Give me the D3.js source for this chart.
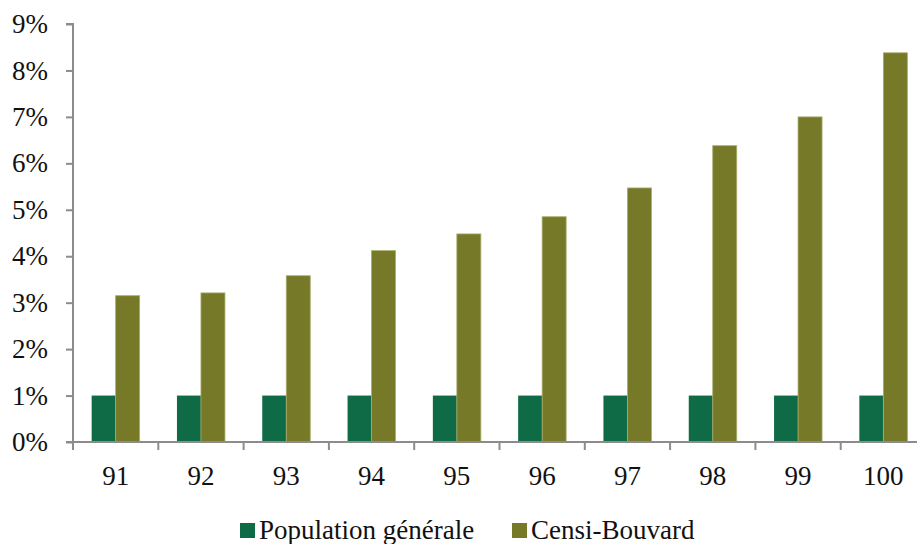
<!DOCTYPE html>
<html>
<head>
<meta charset="utf-8">
<script src="https://cdn.jsdelivr.net/npm/d3@7"></script>
<style>
  body { margin: 0; background: #fff; }
  svg { display: block; }
  text { font-family: "Liberation Serif", "DejaVu Serif", serif; fill: #111; }
</style>
</head>
<body>
<svg width="917" height="544"></svg>
<script>
var categories = ["91", "92", "93", "94", "95", "96", "97", "98", "99", "100"];
var population = [1, 1, 1, 1, 1, 1, 1, 1, 1, 1];
var censi = [3.15, 3.21, 3.58, 4.12, 4.48, 4.85, 5.47, 6.38, 7.0, 8.38];
var seriesNames = ["Population générale", "Censi-Bouvard"];
var colors = ["#0e6b46", "#767a28"];
var yTicks = [0, 1, 2, 3, 4, 5, 6, 7, 8, 9];

var svg = d3.select("svg");
var plotLeft = 73, plotTop = 24, plotBottom = 442, plotRight = 926;
var fontSize = "27px";

var x = d3.scaleBand()
    .domain(categories)
    .range([plotLeft, plotRight]);

var y = d3.scaleLinear()
    .domain([0, 9])
    .range([plotBottom, plotTop]);

var barW = 24;

// bars
var groups = svg.selectAll("g.grp")
    .data(categories)
    .enter().append("g")
    .attr("class", "grp");

groups.append("rect")
    .attr("x", function(d) { return x(d) + x.bandwidth() / 2 - barW; })
    .attr("y", function(d, i) { return y(population[i]); })
    .attr("width", barW)
    .attr("height", function(d, i) { return plotBottom - y(population[i]); })
    .attr("fill", colors[0]);

groups.append("rect")
    .attr("x", function(d) { return x(d) + x.bandwidth() / 2; })
    .attr("y", function(d, i) { return y(censi[i]); })
    .attr("width", barW)
    .attr("height", function(d, i) { return plotBottom - y(censi[i]); })
    .attr("fill", colors[1])
    .attr("stroke", "#a9ad6c")
    .attr("stroke-width", 0.8);

// y axis
var yAxis = d3.axisLeft(y)
    .tickValues(yTicks)
    .tickFormat(function(d) { return d + "%"; })
    .tickSize(7)
    .tickPadding(18);

var ya = svg.append("g")
    .attr("transform", "translate(" + plotLeft + ",0)")
    .call(yAxis);
ya.selectAll("path, line").attr("stroke", "#8c8c8c").attr("stroke-width", 2);
ya.select("path").attr("d", "M-7," + plotTop + "H0V" + plotBottom);
ya.selectAll("text").style("font-size", fontSize).attr("fill", "#111");

// x axis
var xAxis = d3.axisBottom(x)
    .tickSize(0)
    .tickPadding(24);

var xa = svg.append("g")
    .attr("transform", "translate(0," + plotBottom + ")")
    .call(xAxis);
xa.select("path").attr("stroke", "#8c8c8c").attr("stroke-width", 2)
    .attr("d", "M" + (plotLeft - 7) + ",0H" + plotRight);
xa.selectAll("text").style("font-size", fontSize).attr("fill", "#111");

// category separator ticks
svg.append("g").selectAll("line")
    .data(categories)
    .enter().append("line")
    .attr("x1", function(d) { return x(d); })
    .attr("x2", function(d) { return x(d); })
    .attr("y1", plotBottom)
    .attr("y2", plotBottom + 8)
    .attr("stroke", "#8c8c8c")
    .attr("stroke-width", 2);

// legend
var legendX = [240, 512];
var legend = svg.append("g");
seriesNames.forEach(function(name, i) {
    legend.append("rect")
        .attr("x", legendX[i])
        .attr("y", 523)
        .attr("width", 15)
        .attr("height", 15)
        .attr("fill", colors[i]);
    legend.append("text")
        .attr("x", legendX[i] + 19)
        .attr("y", 539)
        .style("font-size", fontSize)
        .text(name);
});
</script>
</body>
</html>
